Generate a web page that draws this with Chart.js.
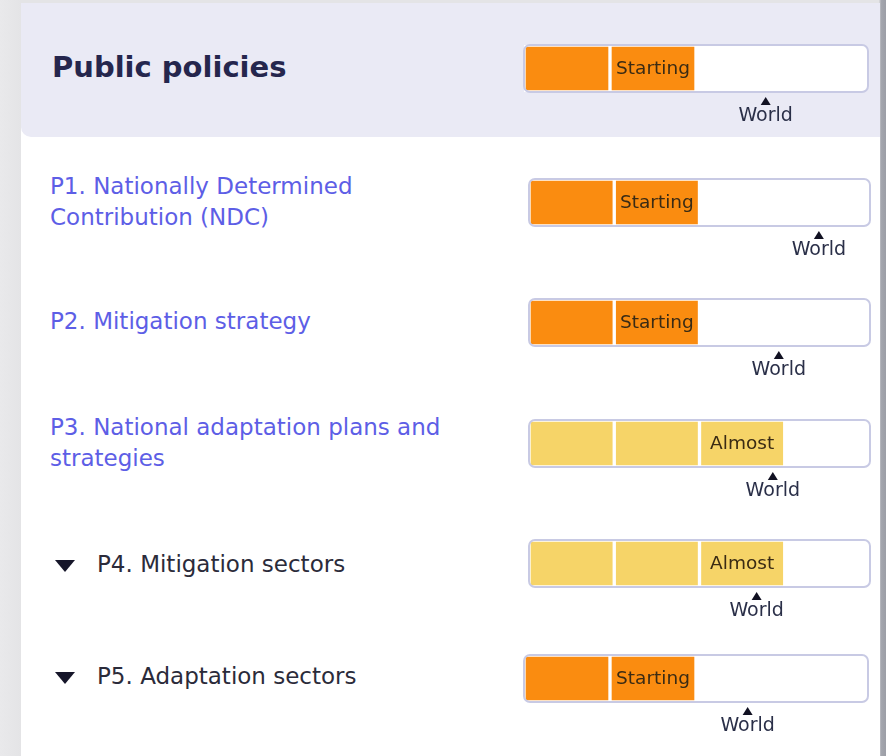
<!DOCTYPE html>
<html>
<head>
<meta charset="utf-8">
<script src="https://cdn.jsdelivr.net/npm/chart.js@4.4.1/dist/chart.umd.min.js"></script>
<style>
  html, body { margin: 0; padding: 0; }
  body {
    width: 886px; height: 756px; overflow: hidden; position: relative;
    background: linear-gradient(90deg, #e9e9eb 0px, #e4e4e6 21px, #e4e4e6 879px, #a4a6ae 881px, #9c9ea6 886px);
    font-family: "DejaVu Sans", "Open Sans", sans-serif;
  }
  .panel { position: absolute; left: 21px; top: 3px; width: 859px; height: 753px; background: #ffffff; }
  .head { position: absolute; left: 21px; top: 3px; width: 859px; height: 134px; background: #eaeaf5; border-bottom-left-radius: 10px; }
  .title { position: absolute; left: 52px; top: 48px; font-size: 29px; font-weight: 700; color: #25264d; line-height: 38px; white-space: nowrap; }
  .lbl { position: absolute; left: 50px; font-size: 23px; line-height: 31px; color: #5d5ee6; white-space: nowrap; }
  .lbl.dark { left: 97px; color: #2b2b3a; }
  .tri { position: absolute; left: 55px; width: 0; height: 0; border-left: 10px solid transparent; border-right: 10px solid transparent; border-top: 12px solid #16162a; }
  .gauge { position: absolute; }
</style>
</head>
<body>
<div class="panel"></div>
<div class="head"></div>
<div class="title" id="title"></div>
<div id="rows"></div>

<script>
// ---- data ----
const headerTitle = 'Public policies';
const rowLabels = [
  [],
  ['P1. Nationally Determined', 'Contribution (NDC)'],
  ['P2. Mitigation strategy'],
  ['P3. National adaptation plans and', 'strategies'],
  ['P4. Mitigation sectors'],
  ['P5. Adaptation sectors']
];
const rowExpandable = [false, false, false, false, true, true];
const rowLevels = [2, 2, 2, 3, 3, 2];          // filled segments out of 4
const rowStatus = ['Starting', 'Starting', 'Starting', 'Almost', 'Almost', 'Starting'];
const worldValues = [2.81, 3.40, 2.93, 2.86, 2.67, 2.60];
const segmentCount = 4;
const worldLabel = 'World';

// ---- layout (page px) ----
const boxes = [
  { x: 524, y: 45, w: 344 },
  { x: 529, y: 179, w: 341 },
  { x: 529, y: 299, w: 341 },
  { x: 529, y: 420, w: 341 },
  { x: 529, y: 540, w: 341 },
  { x: 524, y: 655, w: 344 }
];
const boxH = 47;
const labelTops = [0, 171, 306, 412, 549, 661];
const statusColors = { 'Starting': '#fa8c10', 'Almost': '#f6d468' };

document.getElementById('title').textContent = headerTitle;
const rowsEl = document.getElementById('rows');

const gaugeFrame = {
  id: 'gaugeFrame',
  beforeDatasetsDraw(chart) {
    const a = chart.chartArea, ctx = chart.ctx;
    ctx.save();
    ctx.beginPath();
    ctx.roundRect(a.left, a.top, a.right - a.left, a.bottom - a.top, 6);
    ctx.fillStyle = '#ffffff';
    ctx.fill();
    ctx.restore();
  },
  afterDatasetsDraw(chart, args, opts) {
    const a = chart.chartArea, ctx = chart.ctx;
    ctx.save();
    ctx.beginPath();
    ctx.roundRect(a.left, a.top, a.right - a.left, a.bottom - a.top, 6);
    ctx.strokeStyle = '#c8cae4';
    ctx.lineWidth = 2;
    ctx.stroke();

    // status label in the last filled segment
    const bar = chart.getDatasetMeta(opts.level - 1).data[0];
    ctx.fillStyle = '#3a2b14';
    ctx.font = '18.5px "DejaVu Sans", sans-serif';
    ctx.textAlign = 'center';
    ctx.textBaseline = 'middle';
    ctx.fillText(opts.status, (bar.x + bar.base) / 2, bar.y + 1);

    // world marker
    const wx = chart.scales.x.getPixelForValue(opts.world);
    const ty = a.bottom + 10;
    ctx.beginPath();
    ctx.moveTo(wx, ty - 5);
    ctx.lineTo(wx + 5, ty + 3);
    ctx.lineTo(wx - 5, ty + 3);
    ctx.closePath();
    ctx.fillStyle = '#111122';
    ctx.fill();
    ctx.fillStyle = '#2a2f48';
    ctx.font = '19px "DejaVu Sans", sans-serif';
    ctx.fillText(opts.worldLabel, wx, a.bottom + 24);
    ctx.restore();
  }
};

boxes.forEach((b, r) => {
  if (rowLabels[r].length) {
    if (rowExpandable[r]) {
      const t = document.createElement('div');
      t.className = 'tri';
      t.style.top = (labelTops[r] + 11) + 'px';
      rowsEl.appendChild(t);
    }
    const l = document.createElement('div');
    l.className = 'lbl' + (rowExpandable[r] ? ' dark' : '');
    l.style.top = labelTops[r] + 'px';
    l.innerHTML = rowLabels[r].join('<br>');
    rowsEl.appendChild(l);
  }

  const pad = 6, bottom = 44;
  const wrap = document.createElement('div');
  wrap.className = 'gauge';
  wrap.style.left = (b.x - pad) + 'px';
  wrap.style.top = (b.y - pad) + 'px';
  wrap.style.width = (b.w + pad * 2) + 'px';
  wrap.style.height = (boxH + pad + bottom) + 'px';
  const cv = document.createElement('canvas');
  wrap.appendChild(cv);
  rowsEl.appendChild(wrap);

  const color = statusColors[rowStatus[r]];
  const datasets = [];
  for (let i = 0; i < segmentCount; i++) {
    const filled = i < rowLevels[r];
    datasets.push({
      data: [1],
      backgroundColor: filled ? color : 'rgba(0,0,0,0)',
      borderColor: filled ? '#ffffff' : 'rgba(0,0,0,0)',
      borderWidth: 2,
      borderRadius: 7,
      borderSkipped: false,
      barPercentage: 1,
      categoryPercentage: 1,
      stack: 's'
    });
  }

  new Chart(cv, {
    type: 'bar',
    data: { labels: [''], datasets: datasets },
    options: {
      indexAxis: 'y',
      responsive: true,
      maintainAspectRatio: false,
      animation: false,
      events: [],
      layout: { padding: { left: pad, right: pad, top: pad, bottom: bottom } },
      scales: {
        x: { display: false, min: 0, max: segmentCount, stacked: true },
        y: { display: false, stacked: true }
      },
      plugins: {
        legend: { display: false },
        tooltip: { enabled: false },
        gaugeFrame: { level: rowLevels[r], status: rowStatus[r], world: worldValues[r], worldLabel: worldLabel }
      }
    },
    plugins: [gaugeFrame]
  });
});
</script>
</body>
</html>
